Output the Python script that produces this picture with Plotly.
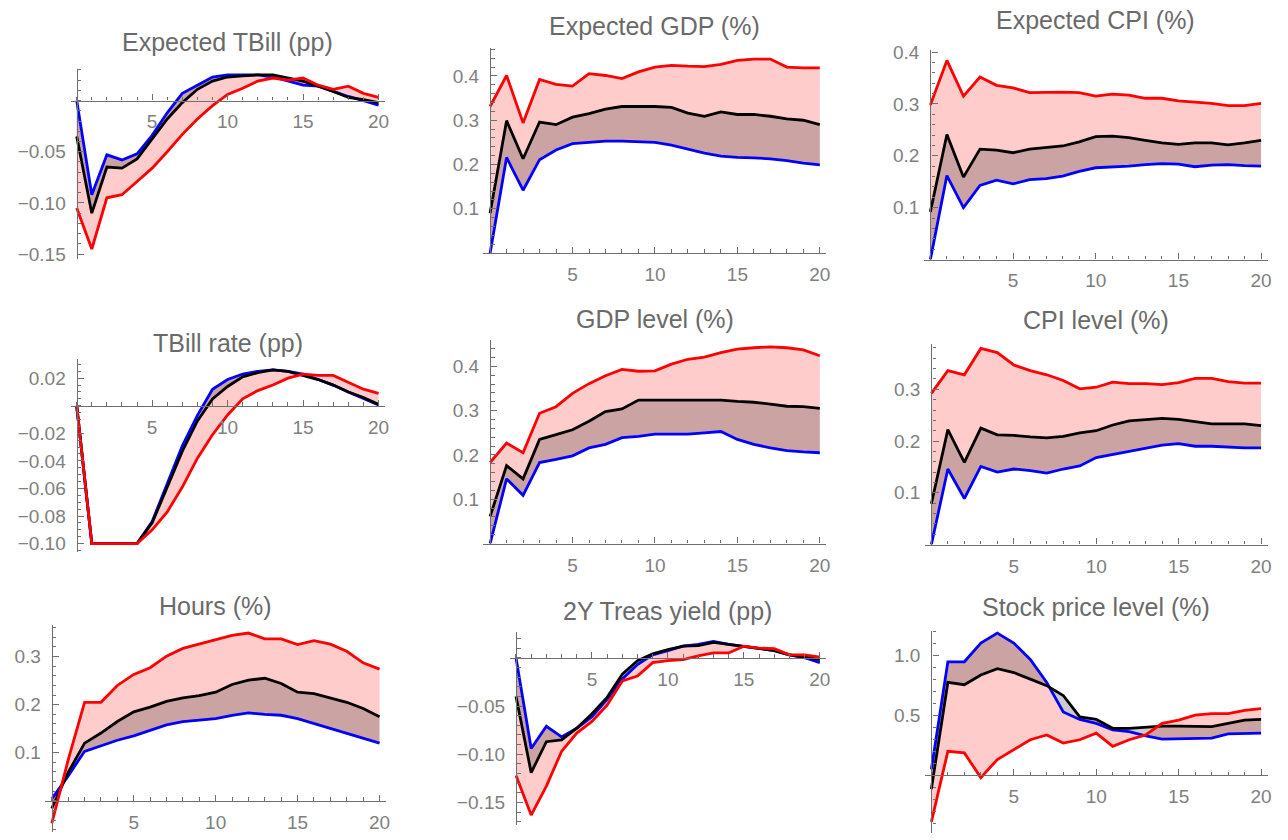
import plotly.graph_objects as go

horizon = list(range(21))

titles = ["Expected TBill (pp)", "Expected GDP (%)", "Expected CPI (%)",
          "TBill rate (pp)", "GDP level (%)", "CPI level (%)",
          "Hours (%)", "2Y Treas yield (pp)", "Stock price level (%)"]

# ---- series values (red, black, blue curves per panel)
exp_tbill_red = [-0.105, -0.145, -0.095, -0.092, -0.079, -0.066, -0.05, -0.033, -0.018, -0.005, 0.006,
                 0.012, 0.019, 0.022, 0.020, 0.022, 0.015, 0.011, 0.014, 0.007, 0.003]
exp_tbill_black = [-0.035, -0.11, -0.065, -0.066, -0.057, -0.037, -0.018, -0.002, 0.011, 0.019, 0.023,
                   0.024, 0.025, 0.025, 0.022, 0.019, 0.014, 0.009, 0.003, 0.001, -0.002]
exp_tbill_blue = [0.0, -0.092, -0.053, -0.058, -0.052, -0.034, -0.012, 0.007, 0.015, 0.023, 0.025,
                  0.025, 0.025, 0.023, 0.019, 0.015, 0.014, 0.009, 0.004, 0.0, -0.0045]

exp_gdp_red = [0.331, 0.401, 0.294, 0.392, 0.381, 0.377, 0.405, 0.401, 0.394, 0.409, 0.42,
               0.424, 0.422, 0.421, 0.426, 0.435, 0.438, 0.438, 0.42, 0.418, 0.418]
exp_gdp_black = [0.09, 0.299, 0.213, 0.296, 0.29, 0.307, 0.315, 0.325, 0.331, 0.331, 0.331,
                 0.329, 0.316, 0.309, 0.319, 0.313, 0.313, 0.309, 0.303, 0.30, 0.29]
exp_gdp_blue = [0.0, 0.216, 0.142, 0.211, 0.233, 0.247, 0.25, 0.253, 0.253, 0.251, 0.25,
                0.244, 0.235, 0.226, 0.219, 0.216, 0.215, 0.213, 0.209, 0.203, 0.199]

exp_cpi_red = [0.298, 0.384, 0.315, 0.352, 0.336, 0.331, 0.322, 0.323, 0.323, 0.322, 0.315,
               0.319, 0.317, 0.311, 0.311, 0.306, 0.304, 0.301, 0.297, 0.297, 0.301]
exp_cpi_black = [0.092, 0.241, 0.159, 0.213, 0.211, 0.206, 0.213, 0.216, 0.219, 0.227, 0.237,
                 0.238, 0.235, 0.23, 0.225, 0.222, 0.225, 0.225, 0.221, 0.225, 0.23]
exp_cpi_blue = [0.0, 0.162, 0.1, 0.143, 0.153, 0.146, 0.154, 0.156, 0.161, 0.17, 0.177,
                0.178, 0.18, 0.183, 0.185, 0.184, 0.179, 0.182, 0.183, 0.181, 0.18]

tbill_red = [0.0, -0.1, -0.1, -0.1, -0.1, -0.09, -0.077, -0.059, -0.038, -0.021, -0.0067,
             0.005, 0.011, 0.015, 0.02, 0.023, 0.022, 0.022, 0.017, 0.012, 0.009]
tbill_black = [0.0, -0.1, -0.1, -0.1, -0.1, -0.085, -0.059, -0.033, -0.011, 0.005, 0.014,
               0.021, 0.024, 0.026, 0.025, 0.022, 0.019, 0.015, 0.010, 0.006, 0.001]
tbill_blue = [0.0, -0.1, -0.1, -0.1, -0.1, -0.084, -0.057, -0.029, -0.007, 0.012, 0.019,
              0.023, 0.025, 0.026, 0.025, 0.023, 0.019, 0.015, 0.010, 0.005, 0.0005]

gdp_red = [0.183, 0.227, 0.205, 0.294, 0.309, 0.339, 0.361, 0.379, 0.393, 0.389, 0.39,
           0.405, 0.416, 0.421, 0.431, 0.439, 0.442, 0.444, 0.442, 0.437, 0.424]
gdp_black = [0.061, 0.176, 0.146, 0.235, 0.246, 0.257, 0.276, 0.298, 0.304, 0.324, 0.324,
             0.324, 0.324, 0.325, 0.324, 0.321, 0.319, 0.315, 0.31, 0.309, 0.305]
gdp_blue = [0.0, 0.146, 0.109, 0.183, 0.19, 0.198, 0.216, 0.224, 0.239, 0.242, 0.247,
            0.247, 0.247, 0.25, 0.253, 0.235, 0.224, 0.216, 0.21, 0.207, 0.205]

cpi_red = [0.292, 0.336, 0.328, 0.379, 0.371, 0.347, 0.336, 0.328, 0.317, 0.301, 0.304,
           0.314, 0.311, 0.311, 0.309, 0.313, 0.321, 0.321, 0.315, 0.312, 0.312]
cpi_black = [0.079, 0.222, 0.159, 0.225, 0.212, 0.211, 0.208, 0.206, 0.209, 0.216, 0.22,
             0.231, 0.239, 0.241, 0.244, 0.242, 0.238, 0.233, 0.233, 0.233, 0.23]
cpi_blue = [0.0, 0.146, 0.089, 0.151, 0.14, 0.146, 0.143, 0.138, 0.146, 0.152, 0.168,
            0.174, 0.181, 0.187, 0.192, 0.195, 0.19, 0.19, 0.188, 0.187, 0.187]

hours_red = [-0.047, 0.085, 0.205, 0.205, 0.24, 0.263, 0.277, 0.301, 0.317, 0.326, 0.335,
             0.344, 0.349, 0.337, 0.337, 0.325, 0.333, 0.326, 0.311, 0.287, 0.274]
hours_black = [-0.016, 0.059, 0.12, 0.141, 0.165, 0.185, 0.195, 0.207, 0.214, 0.219, 0.226,
               0.242, 0.251, 0.255, 0.244, 0.226, 0.223, 0.214, 0.205, 0.192, 0.175]
hours_blue = [0.004, 0.052, 0.103, 0.115, 0.126, 0.135, 0.146, 0.158, 0.165, 0.168, 0.171,
              0.178, 0.183, 0.18, 0.178, 0.171, 0.161, 0.151, 0.141, 0.13, 0.12]

treas2y_red = [-0.122, -0.163, -0.133, -0.097, -0.078, -0.066, -0.049, -0.024, -0.019, -0.005, -0.003,
               -0.002, 0.002, 0.005, 0.005, 0.012, 0.010, 0.0095, 0.003, 0.003, 0.0007]
treas2y_black = [-0.04, -0.119, -0.087, -0.085, -0.073, -0.058, -0.041, -0.017, -0.003, 0.004, 0.0085,
                 0.012, 0.0126, 0.016, 0.014, 0.012, 0.010, 0.0075, 0.003, 0.001, -0.002]
treas2y_blue = [0.0, -0.094, -0.071, -0.082, -0.073, -0.061, -0.043, -0.022, -0.007, 0.003, 0.0075,
                0.012, 0.014, 0.017, 0.014, 0.012, 0.010, 0.0075, 0.003, 0.0, -0.005]

stock_red = [-0.39, 0.2, 0.187, -0.02, 0.132, 0.214, 0.297, 0.338, 0.269, 0.297, 0.352,
             0.242, 0.297, 0.338, 0.434, 0.462, 0.503, 0.516, 0.516, 0.544, 0.558]
stock_black = [-0.115, 0.777, 0.758, 0.84, 0.893, 0.86, 0.805, 0.75, 0.668, 0.489, 0.467,
               0.393, 0.393, 0.401, 0.412, 0.412, 0.412, 0.407, 0.434, 0.462, 0.467]
stock_blue = [0.05, 0.95, 0.95, 1.107, 1.19, 1.107, 0.97, 0.777, 0.53, 0.467, 0.434,
              0.379, 0.365, 0.33, 0.302, 0.305, 0.302, 0.31, 0.346, 0.346, 0.352]

# ---- tick labels
x_tickvals = [5, 10, 15, 20]
x_ticktext = ["5", "10", "15", "20"]
y_tickvals = [
    [-0.15, -0.10, -0.05],
    [0.1, 0.2, 0.3, 0.4],
    [0.1, 0.2, 0.3, 0.4],
    [-0.10, -0.08, -0.06, -0.04, -0.02, 0.02],
    [0.1, 0.2, 0.3, 0.4],
    [0.1, 0.2, 0.3],
    [0.1, 0.2, 0.3],
    [-0.15, -0.10, -0.05],
    [0.5, 1.0],
]
y_ticktext = [
    ["\u22120.15", "\u22120.10", "\u22120.05"],
    ["0.1", "0.2", "0.3", "0.4"],
    ["0.1", "0.2", "0.3", "0.4"],
    ["\u22120.10", "\u22120.08", "\u22120.06", "\u22120.04", "\u22120.02", "0.02"],
    ["0.1", "0.2", "0.3", "0.4"],
    ["0.1", "0.2", "0.3"],
    ["0.1", "0.2", "0.3"],
    ["\u22120.15", "\u22120.10", "\u22120.05"],
    ["0.5", "1.0"],
]

series = [
    (exp_tbill_red, exp_tbill_black, exp_tbill_blue),
    (exp_gdp_red, exp_gdp_black, exp_gdp_blue),
    (exp_cpi_red, exp_cpi_black, exp_cpi_blue),
    (tbill_red, tbill_black, tbill_blue),
    (gdp_red, gdp_black, gdp_blue),
    (cpi_red, cpi_black, cpi_blue),
    (hours_red, hours_black, hours_blue),
    (treas2y_red, treas2y_black, treas2y_blue),
    (stock_red, stock_black, stock_blue),
]

# ---- layout geometry (pixel position of x=0, x=20, y=0, px per unit y, y range, minor dtick, title y px)
W, H = 1288, 840
geom = [
    (77, 380, 94, 1040, (-0.155, 0.031), 0.01, 35),
    (492, 823, 249, 450, (0.0, 0.463), 0.02, 18),
    (934, 1266, 255.5, 526.7, (0.0, 0.405), 0.02, 12),
    (77, 380, 404, 1400, (-0.106, 0.034), 0.005, 340),
    (492, 823, 544, 450, (0.0, 0.46), 0.02, 316),
    (935, 1266, 545, 525.7, (0.0, 0.388), 0.02, 317),
    (52, 381, 805.3, 488.3, (-0.065, 0.365), 0.02, 607),
    (518, 823, 660, 980, (-0.173, 0.027), 0.01, 612),
    (935, 1266, 779.3, 121.3, (-0.48, 1.21), 0.1, 608),
]

AX = "#6f6f6f"
TICKC = "#808080"
TITLEC = "#6a6a6a"
FONT = "Liberation Sans"
XR = (-0.4, 20.4)

fig = go.Figure()
layout = {}
annotations = []

for i, ((red, black, blue), g) in enumerate(zip(series, geom)):
    n = i + 1
    xa = "x" if n == 1 else f"x{n}"
    ya = "y" if n == 1 else f"y{n}"
    x0, x20, y0, yppu, yr, ydt, ty = g
    ppu = (x20 - x0) / 20.0
    left = x0 + XR[0] * ppu
    right = x0 + XR[1] * ppu
    top = y0 - yr[1] * yppu
    bottom = y0 - yr[0] * yppu
    xdom = [left / W, right / W]
    ydom = [1 - bottom / H, 1 - top / H]
    xpos = 1 - y0 / H
    ypos = x0 / W

    common = dict(mode="lines", x=horizon, xaxis=xa, yaxis=ya, hoverinfo="skip", showlegend=False)
    # fills
    fig.add_trace(go.Scatter(y=blue, line=dict(width=0, color="rgba(0,0,0,0)"), **common))
    fig.add_trace(go.Scatter(y=red, line=dict(width=0, color="rgba(0,0,0,0)"), fill="tonexty",
                             fillcolor="rgba(255,0,0,0.2)", **common))
    fig.add_trace(go.Scatter(y=blue, line=dict(width=0, color="rgba(0,0,0,0)"), **common))
    fig.add_trace(go.Scatter(y=black, line=dict(width=0, color="rgba(0,0,0,0)"), fill="tonexty",
                             fillcolor="rgba(0,0,0,0.2)", **common))
    # lines
    fig.add_trace(go.Scatter(y=blue, line=dict(width=2.8, color="#0000ff"), **common))
    fig.add_trace(go.Scatter(y=black, line=dict(width=2.8, color="#000000"), **common))
    fig.add_trace(go.Scatter(y=red, line=dict(width=2.8, color="#ff0000"), **common))

    xkey = "xaxis" if n == 1 else f"xaxis{n}"
    ykey = "yaxis" if n == 1 else f"yaxis{n}"
    layout[xkey] = dict(
        domain=xdom, range=list(XR), anchor="free", position=xpos,
        showline=True, linecolor=AX, linewidth=1.3, showgrid=False, zeroline=False,
        ticks="inside", ticklen=6, tickwidth=1.2, tickcolor=AX,
        tickmode="array", tickvals=x_tickvals, ticktext=x_ticktext,
        minor=dict(ticks="inside", ticklen=3.5, tickwidth=1, tickcolor=AX, tickmode="linear", tick0=0, dtick=1),
        tickfont=dict(family=FONT, size=19, color=TICKC), ticklabelstandoff=4,
        fixedrange=True,
    )
    layout[ykey] = dict(
        domain=ydom, range=list(yr), anchor="free", position=ypos,
        showline=True, linecolor=AX, linewidth=1.3, showgrid=False, zeroline=False,
        ticks="inside", ticklen=6, tickwidth=1.2, tickcolor=AX,
        tickmode="array", tickvals=y_tickvals[i], ticktext=y_ticktext[i],
        minor=dict(ticks="inside", ticklen=3.5, tickwidth=1, tickcolor=AX, tickmode="linear", tick0=0, dtick=ydt),
        tickfont=dict(family=FONT, size=19, color=TICKC), ticklabelstandoff=7,
        fixedrange=True,
    )
    annotations.append(dict(
        text=titles[i], xref="paper", yref="paper", x=(left + right) / 2 / W, y=1 - ty / H,
        xanchor="center", yanchor="middle", showarrow=False,
        font=dict(family=FONT, size=25, color=TITLEC),
    ))

fig.update_layout(
    width=W, height=H, margin=dict(l=0, r=0, t=0, b=0),
    paper_bgcolor="white", plot_bgcolor="white",
    annotations=annotations, **layout,
)

fig.write_html(
    "out.html",
    config={"displayModeBar": False},
    post_script="document.body.style.margin='0';document.body.style.overflow='hidden';",
)
